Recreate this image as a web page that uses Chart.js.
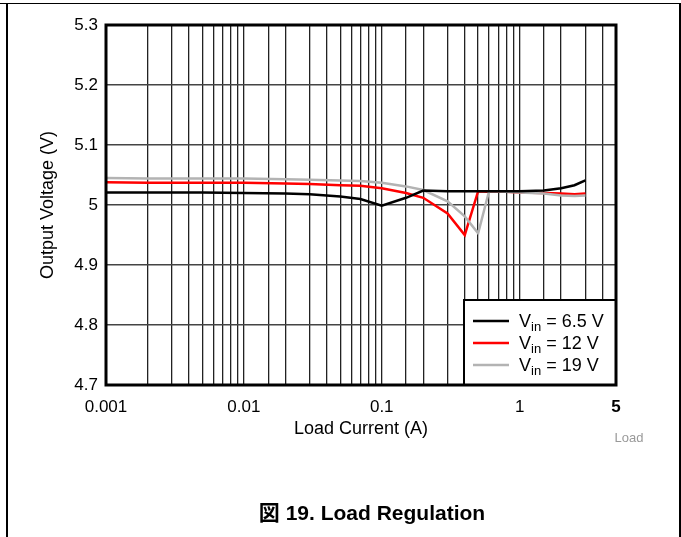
<!DOCTYPE html>
<html>
<head>
<meta charset="utf-8">
<script src="https://cdn.jsdelivr.net/npm/chart.js@4.4.0/dist/chart.umd.min.js"></script>
<style>
  body { margin: 0; background: #fff; overflow: hidden; }
  #wrap { position: relative; width: 681px; height: 537px; }
  #frame { position: absolute; left: 6px; top: 3px; width: 671px; height: 600px;
           border-left: 2px solid #000; border-right: 2px solid #000; }
  #topline { position: absolute; left: 0; top: 3px; width: 680px; height: 1px; background: #000; }
  #caption { position: absolute; left: 172px; width: 400px; top: 502px; text-align: center;
             font: bold 21px 'Liberation Sans', Arial, 'Noto Sans CJK JP', sans-serif; line-height: 22px; }
  #note { position: absolute; left: 600px; width: 58px; top: 430px; text-align: center;
          font: 13px 'Liberation Sans', Arial, sans-serif; color: #999; line-height: 16px; }
  canvas { position: absolute; left: 0; top: 0; }
</style>
</head>
<body>
<div id="wrap">
  <canvas id="c" width="681" height="537"></canvas>
  <div id="frame"></div>
  <div id="topline"></div>
  <div id="note">Load</div>
  <div id="caption">図 19. Load Regulation</div>
</div>
<script>
// load current (A)
const loadCurrent = [0.001, 0.002, 0.005, 0.01, 0.02, 0.03, 0.05, 0.07, 0.1, 0.15, 0.2, 0.3, 0.4, 0.5, 0.6, 0.8, 1, 1.5, 2, 2.5, 3];
// output voltage (V) per input voltage
const vout65 = [5.021, 5.021, 5.021, 5.020, 5.019, 5.018, 5.014, 5.010, 4.999, 5.012, 5.024, 5.023, 5.023, 5.023, 5.023, 5.023, 5.023, 5.024, 5.028, 5.033, 5.041];
const vout12 = [5.038, 5.037, 5.037, 5.037, 5.036, 5.035, 5.033, 5.032, 5.028, 5.020, 5.012, 4.986, 4.950, 5.023, 5.022, 5.022, 5.021, 5.020, 5.019, 5.018, 5.019];
const vout19 = [5.045, 5.044, 5.044, 5.044, 5.043, 5.042, 5.041, 5.040, 5.037, 5.031, 5.025, 5.006, 4.981, 4.953, 5.023, 5.022, 5.021, 5.019, 5.016, 5.015, 5.016];

const vinNames = ['6.5 V', '12 V', '19 V'];
const xTickLabels = ['0.001', '0.01', '0.1', '1', '5'];
const yTicks = [4.7, 4.8, 4.9, 5.0, 5.1, 5.2, 5.3];
const yTickLabels = ['4.7', '4.8', '4.9', '5', '5.1', '5.2', '5.3'];

const FONT = "'Liberation Sans', Arial, sans-serif";

const pts = ys => loadCurrent.map((x, i) => ({ x: x, y: ys[i] }));

// legend with subscript + thick plot frame
const framePlugin = {
  id: 'frame',
  afterDraw(chart) {
    const { ctx, chartArea: a } = chart;
    ctx.save();
    const bx = a.right - 152, by = a.bottom - 85;
    ctx.fillStyle = '#fff';
    ctx.fillRect(bx, by, 152, 85);
    ctx.lineWidth = 2;
    ctx.strokeStyle = '#000';
    ctx.strokeRect(bx, by, 152, 85);
    chart.data.datasets.forEach((ds, i) => {
      const y = by + 21 + i * 22;
      ctx.strokeStyle = ds.borderColor;
      ctx.lineWidth = 2.5;
      ctx.beginPath();
      ctx.moveTo(bx + 9, y);
      ctx.lineTo(bx + 45, y);
      ctx.stroke();
      ctx.fillStyle = '#000';
      ctx.textBaseline = 'alphabetic';
      let tx = bx + 55;
      ctx.font = '18px ' + FONT;
      ctx.fillText('V', tx, y + 6);
      tx += ctx.measureText('V').width;
      ctx.font = '13px ' + FONT;
      ctx.fillText('in', tx, y + 10);
      tx += ctx.measureText('in').width;
      ctx.font = '18px ' + FONT;
      ctx.fillText(' = ' + vinNames[i], tx, y + 6);
    });
    ctx.lineWidth = 3;
    ctx.strokeStyle = '#000';
    ctx.strokeRect(a.left, a.top, a.right - a.left, a.bottom - a.top);
    ctx.restore();
  }
};

new Chart(document.getElementById('c'), {
  type: 'line',
  data: {
    datasets: [
      { label: 'Vin = ' + vinNames[0], data: pts(vout65), borderColor: '#000000', order: 0 },
      { label: 'Vin = ' + vinNames[1], data: pts(vout12), borderColor: '#ff0000', order: 2 },
      { label: 'Vin = ' + vinNames[2], data: pts(vout19), borderColor: '#b3b3b3', order: 1 }
    ]
  },
  options: {
    responsive: false,
    animation: false,
    layout: { padding: { left: 0, top: 25, right: 65, bottom: 0 } },
    elements: {
      line: { borderWidth: 2.5, tension: 0, fill: false },
      point: { radius: 0 }
    },
    plugins: { legend: { display: false }, tooltip: { enabled: false } },
    scales: {
      x: {
        type: 'logarithmic',
        min: 0.001,
        max: 5,
        afterFit: s => { s.height = 152; },
        border: { display: false },
        grid: { color: '#222', lineWidth: 1.3, drawTicks: false },
        ticks: {
          autoSkip: false,
          maxRotation: 0,
          padding: 12,
          color: '#000',
          font: c => ({ family: FONT, size: 17, weight: (c.tick && Math.abs(c.tick.value - 5) < 1e-9) ? 'bold' : 'normal' }),
          callback: v => {
            const l = xTickLabels.find(t => Math.abs(Math.log10(parseFloat(t)) - Math.log10(v)) < 1e-6);
            return l === undefined ? '' : l;
          }
        },
        title: { display: true, text: 'Load Current (A)', color: '#000', font: { family: FONT, size: 18 }, padding: { top: 0, bottom: 97 } }
      },
      y: {
        min: 4.7,
        max: 5.3,
        afterFit: s => { s.width = 106; },
        afterBuildTicks: s => { s.ticks = yTicks.map(v => ({ value: v })); },
        border: { display: false },
        grid: { color: '#444', lineWidth: 1.5, drawTicks: false },
        ticks: {
          padding: 8,
          color: '#000',
          font: { family: FONT, size: 17 },
          callback: (v, i) => yTickLabels[i]
        },
        title: { display: true, text: 'Output Voltage (V)', color: '#000', font: { family: FONT, size: 18 }, padding: { top: 37, bottom: 0 } }
      }
    }
  },
  plugins: [framePlugin]
});
</script>
</body>
</html>
